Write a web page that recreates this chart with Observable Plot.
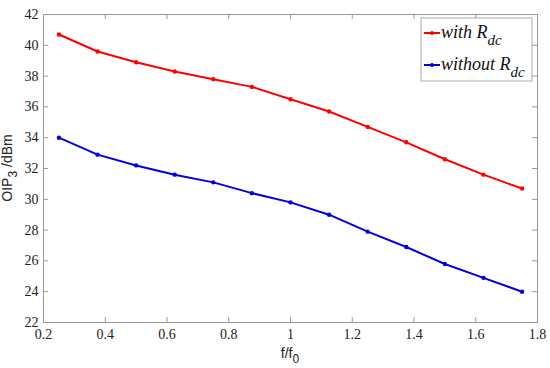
<!DOCTYPE html>
<html>
<head>
<meta charset="utf-8">
<script src="https://cdn.jsdelivr.net/npm/d3@7"></script>
<script src="https://cdn.jsdelivr.net/npm/@observablehq/plot@0.6"></script>
<style>
  html, body { margin: 0; padding: 0; background: #fff; }
  #chart svg { display: block; }
</style>
</head>
<body>
<div id="chart"></div>
<script>
const freqRatio = [0.25, 0.375, 0.5, 0.625, 0.75, 0.875, 1.0, 1.125, 1.25, 1.375, 1.5, 1.625, 1.75];
const withRdc = [40.7, 39.6, 38.9, 38.3, 37.8, 37.3, 36.5, 35.7, 34.7, 33.7, 32.6, 31.6, 30.7];
const withoutRdc = [34.0, 32.9, 32.2, 31.6, 31.1, 30.4, 29.8, 29.0, 27.9, 26.9, 25.8, 24.9, 24.0];
const xTicks = [0.2, 0.4, 0.6, 0.8, 1.0, 1.2, 1.4, 1.6, 1.8];
const yTicks = [22, 24, 26, 28, 30, 32, 34, 36, 38, 40, 42];
const seriesNames = ["with", "without"];

const rows = [];
freqRatio.forEach((f, i) => {
  rows.push({f, v: withRdc[i], s: seriesNames[0]});
  rows.push({f, v: withoutRdc[i], s: seriesNames[1]});
});
const colors = {with: "#ff0000", without: "#0000dd"};

const serif = "Liberation Serif";
const sans = "Liberation Sans";
const axisColor = "#999";
const W = 550, H = 368, ML = 43, MR = 13, MT = 14, MB = 46;
const innerW = W - ML - MR, innerH = H - MT - MB, TL = 5;

const plot = Plot.plot({
  width: W,
  height: H,
  marginLeft: ML,
  marginRight: MR,
  marginTop: MT,
  marginBottom: MB,
  style: {fontSize: "14px", color: "#222", background: "#fff"},
  x: {domain: [0.2, 1.8]},
  y: {domain: [22, 42]},
  color: {domain: seriesNames, range: [colors.with, colors.without]},
  marks: [
    Plot.frame({stroke: axisColor}),
    Plot.ruleX(xTicks, {x: d => d, stroke: axisColor, insetTop: innerH - TL}),
    Plot.ruleX(xTicks, {x: d => d, stroke: axisColor, insetBottom: innerH - TL}),
    Plot.ruleY(yTicks, {y: d => d, stroke: axisColor, insetRight: innerW - TL}),
    Plot.ruleY(yTicks, {y: d => d, stroke: axisColor, insetLeft: innerW - TL}),
    Plot.axisX({ticks: xTicks, tickSize: 0, tickPadding: 7, tickFormat: d => String(+d.toFixed(1)), label: null, fill: "#222", fontSize: 14}),
    Plot.axisY({ticks: yTicks, tickSize: 0, tickPadding: 5, label: null, fill: "#222", fontSize: 14}),
    Plot.line(rows, {x: "f", y: "v", z: "s", stroke: "s", strokeWidth: 2}),
    Plot.dot(rows, {x: "f", y: "v", fill: "s", r: 2.2, symbol: "circle"})
  ]
});
document.getElementById("chart").appendChild(plot);

const svg = d3.select(plot);
svg.attr("font-family", serif).style("font-family", serif);
svg.selectAll("text").attr("font-family", serif).style("font-family", serif);
svg.selectAll("g").filter(function() { return this.hasAttribute("font-family"); }).attr("font-family", serif);

// x label f/f0
const xl = svg.append("text")
  .attr("x", 290).attr("y", 358)
  .attr("text-anchor", "middle")
  .attr("font-family", sans).style("font-family", sans).attr("font-size", 14).attr("fill", "#222");
xl.append("tspan").text("f/f");
xl.append("tspan").attr("dy", 5).attr("font-size", 12).text("0");

// y label OIP3 /dBm
const yl = svg.append("text")
  .attr("transform", "translate(12,168) rotate(-90)")
  .attr("text-anchor", "middle")
  .attr("font-family", sans).style("font-family", sans).attr("font-size", 14).attr("fill", "#222");
yl.append("tspan").text("OIP");
yl.append("tspan").attr("dy", 5).attr("font-size", 12).text("3");
yl.append("tspan").attr("dy", -5).text(" /dBm");

// legend
const lg = svg.append("g");
lg.append("rect").attr("x", 421).attr("y", 18).attr("width", 111).attr("height", 63)
  .attr("fill", "#fff").attr("stroke", "#aaa").attr("stroke-width", 1);
const items = [
  {name: "with ", color: colors.with, y: 33},
  {name: "without ", color: colors.without, y: 65}
];
items.forEach(it => {
  lg.append("line").attr("x1", 424).attr("x2", 440).attr("y1", it.y).attr("y2", it.y)
    .attr("stroke", it.color).attr("stroke-width", 2);
  lg.append("circle").attr("cx", 432).attr("cy", it.y).attr("r", 2).attr("fill", it.color);
  const t = lg.append("text").attr("x", 441).attr("y", it.y + 5)
    .attr("text-anchor", "start")
    .attr("font-family", serif).style("font-family", serif).attr("font-style", "italic").attr("font-size", 18).attr("fill", "#111");
  t.append("tspan").text(it.name + "R");
  t.append("tspan").attr("dy", 7).attr("font-size", 15).text("dc");
});
</script>
</body>
</html>
